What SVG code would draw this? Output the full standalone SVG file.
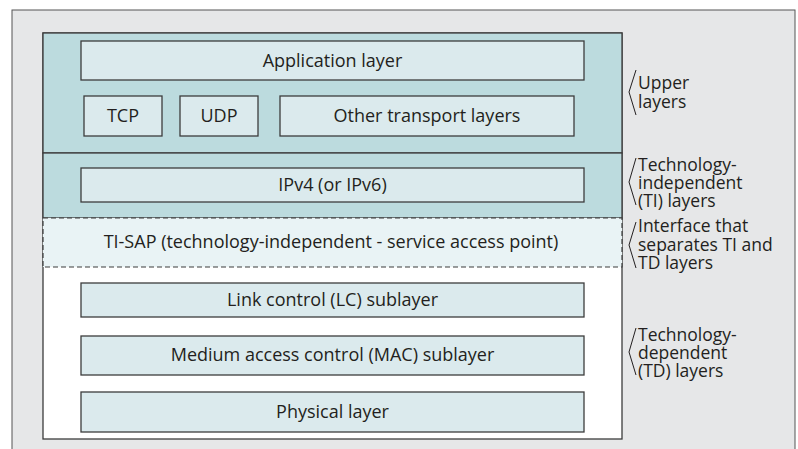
<svg xmlns="http://www.w3.org/2000/svg" width="798" height="449" viewBox="0 0 798 449">
<style>
.t{font-family:"Open Sans","Noto Sans","Liberation Sans",sans-serif;font-size:18px;fill:#231f20}
.l{font-size:17.5px}
.c{text-anchor:middle}
.box{fill:#dbeaed;stroke:#3c3c3c;stroke-width:1.3}
.br{fill:none;stroke:#231f20;stroke-width:1}
</style>
<rect x="0" y="0" width="798" height="449" fill="#ffffff"/>
<rect id="frame" x="12" y="10" width="783" height="450" fill="#e6e7e8" stroke="#555" stroke-width="1"/>
<g id="stack">
<rect x="43" y="33" width="579" height="406" fill="#ffffff" stroke="#3c3c3c" stroke-width="1.3"/>
<rect x="43" y="33" width="579" height="120" fill="#bcdbde" stroke="#3c3c3c" stroke-width="1.3"/>
<rect x="43" y="153" width="579" height="65" fill="#bcdbde" stroke="#3c3c3c" stroke-width="1.3"/>
<rect x="43" y="218" width="579" height="49" fill="#e9f3f5" stroke="#3c3c3c" stroke-width="1.2" stroke-dasharray="5 3"/>
</g>
<g id="app"><rect class="box" x="81" y="41" width="503" height="39"/><text class="t c" x="332.5" y="67">Application layer</text></g>
<g id="tcp"><rect class="box" x="84" y="96" width="78" height="40"/><text class="t c" x="123" y="122">TCP</text></g>
<g id="udp"><rect class="box" x="180" y="96" width="78" height="40"/><text class="t c" x="219" y="122">UDP</text></g>
<g id="other"><rect class="box" x="280" y="96" width="294" height="40"/><text class="t c" x="427" y="122">Other transport layers</text></g>
<g id="ip"><rect class="box" x="81" y="168" width="503" height="34"/><text class="t c" x="332.5" y="191">IPv4 (or IPv6)</text></g>
<g id="tisap"><text class="t c" x="331" y="248">TI-SAP (technology-independent - service access point)</text></g>
<g id="lc"><rect class="box" x="81" y="283" width="503" height="34"/><text class="t c" x="332.5" y="306">Link control (LC) sublayer</text></g>
<g id="mac"><rect class="box" x="81" y="336" width="503" height="39"/><text class="t c" x="332.5" y="361">Medium access control (MAC) sublayer</text></g>
<g id="phy"><rect class="box" x="81" y="392" width="503" height="40"/><text class="t c" x="332.5" y="418">Physical layer</text></g>
<g id="labels">
<path class="br" d="M636,70 L629,92 L636,115"/>
<text class="t l" x="638" y="89">Upper</text>
<text class="t l" x="638" y="107.5">layers</text>
<path class="br" d="M636,158 L629,182 L636,205"/>
<text class="t l" x="638" y="171">Technology-</text>
<text class="t l" x="638" y="188.5">independent</text>
<text class="t l" x="638" y="206.5">(TI) layers</text>
<path class="br" d="M636,222 L629,245 L636,268"/>
<text class="t l" x="638" y="232">Interface that</text>
<text class="t l" x="638" y="250.5">separates TI and</text>
<text class="t l" x="638" y="269">TD layers</text>
<path class="br" d="M636,328 L629,352 L636,375"/>
<text class="t l" x="638" y="340.5">Technology-</text>
<text class="t l" x="638" y="358.5">dependent</text>
<text class="t l" x="638" y="376.5">(TD) layers</text>
</g>
</svg>
